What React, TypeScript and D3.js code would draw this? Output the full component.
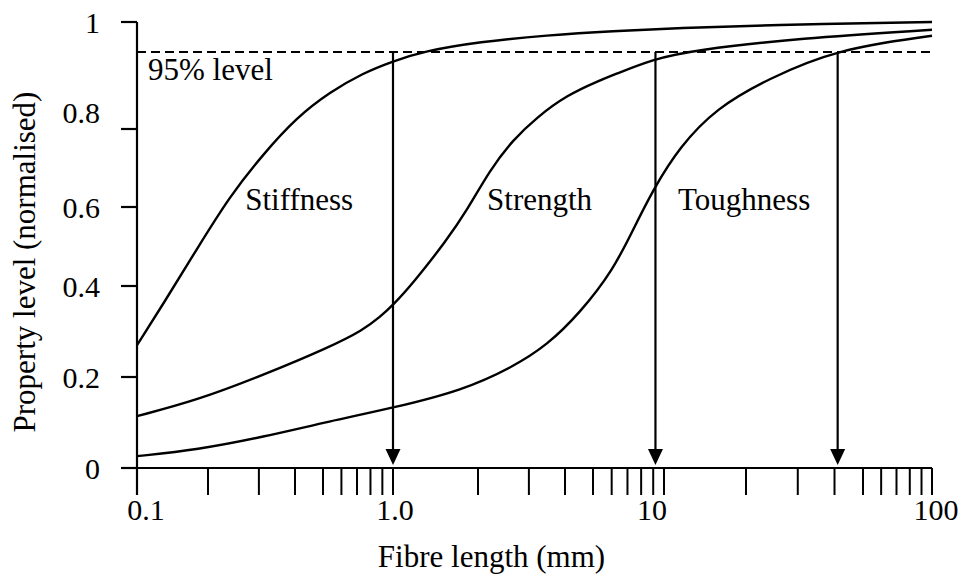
import React from "react";
import * as d3 from "d3";

// Normalised property level against fibre length (mm)
const stiffness: [number, number][] = [
  [0.1, 0.27], [0.129, 0.36], [0.18, 0.495], [0.238, 0.628], [0.31, 0.735],
  [0.406, 0.823], [0.536, 0.872], [0.743, 0.909], [1.0, 0.932], [1.28, 0.951],
  [2.02, 0.967], [3.47, 0.978], [6.08, 0.985], [11.4, 0.99], [23.6, 0.995],
  [100, 1.0],
];
const strength: [number, number][] = [
  [0.1, 0.114], [0.18, 0.149], [0.31, 0.204], [0.536, 0.266], [0.743, 0.303],
  [0.879, 0.332], [1.0, 0.358], [1.18, 0.408], [1.55, 0.516], [1.83, 0.592],
  [2.2, 0.695], [2.64, 0.772], [3.2, 0.823], [4.06, 0.866], [5.36, 0.895],
  [6.08, 0.905], [8.98, 0.936], [12.8, 0.953], [30.5, 0.973], [100, 0.987],
];
const toughness: [number, number][] = [
  [0.1, 0.026], [0.18, 0.04], [0.31, 0.068], [0.536, 0.103], [1.0, 0.132],
  [1.77, 0.171], [2.64, 0.222], [3.47, 0.27], [4.51, 0.341], [6.08, 0.44],
  [7.39, 0.542], [8.98, 0.644], [11.4, 0.754], [15.6, 0.841], [23.6, 0.897],
  [40.8, 0.955], [100, 0.977],
];

const curveNames = ["Stiffness", "Strength", "Toughness"];
const curveLabelAt: [number, number][] = [[0.269, 0.592], [2.15, 0.592], [11.26, 0.592]];

// Fibre length at which each property reaches the 95 % level
const criticalLengths = [1.0, 9.2, 41];
const targetLevel = 0.95;

const xTickValues = [0.1, 1, 10, 100];
const xTickLabels = ["0.1", "1.0", "10", "100"];
const yTickValues = [0, 0.2, 0.4, 0.6, 0.8, 1];
const yTickLabels = ["0", "0.2", "0.4", "0.6", "0.8", "1"];

const FONT = "'Liberation Serif', 'Times New Roman', serif";
const W = 962;
const H = 579;

// Axis as drawn: log spacing per segment, piecewise across the decades
const x = d3
  .scaleLog()
  .domain([0.1, 0.2, 0.5, 1, 2, 5, 10, 20, 50, 100])
  .range([137, 208, 323, 393, 478, 593, 664, 746, 863, 932]);
const y = d3
  .scaleLinear()
  .domain([0, 0.2, 0.4, 0.6, 0.8, 0.95, 1])
  .range([468, 377, 286, 207, 129, 52, 22]);

// Small hand offsets for the tick labels
const xLabelNudge: Record<string, number> = { "0.1": 9, "1.0": 2, "10": -12, "100": 4 };
const yLabelNudge: Record<string, number> = { "0.8": -17 };

export default function App() {
  const line = d3
    .line<[number, number]>()
    .x((d) => x(d[0]))
    .y((d) => y(d[1]))
    .curve(d3.curveBasis);

  const [x0, x1] = [x(0.1), x(100)];
  const y0 = y(0);
  const minorTicks = x.ticks();

  return (
    <svg
      width={W}
      height={H}
      style={{ position: "absolute", left: 0, top: 0, background: "#fff" }}
      fontFamily={FONT}
    >
      {/* y axis */}
      <line x1={x0} x2={x0} y1={y(1)} y2={y0 + 27} stroke="#000" strokeWidth={2.2} />
      {yTickValues.map((v, i) => (
        <g key={"yt" + i}>
          <line x1={x0 - 16} x2={x0} y1={y(v)} y2={y(v)} stroke="#000" strokeWidth={2.2} />
          <text
            x={100}
            y={y(v) + (yLabelNudge[yTickLabels[i]] || 0)}
            textAnchor="end"
            dominantBaseline="central"
            fontSize={30}
          >
            {yTickLabels[i]}
          </text>
        </g>
      ))}

      {/* x axis */}
      <line x1={x0 - 16} x2={x1} y1={y0} y2={y0} stroke="#000" strokeWidth={2.2} />
      {minorTicks.map((v, i) => (
        <line key={"xt" + i} x1={x(v)} x2={x(v)} y1={y0} y2={y0 + 27} stroke="#000" strokeWidth={2} />
      ))}
      {xTickValues.map((v, i) => (
        <text
          key={"xl" + i}
          x={x(v) + (xLabelNudge[xTickLabels[i]] || 0)}
          y={520}
          textAnchor="middle"
          fontSize={30}
        >
          {xTickLabels[i]}
        </text>
      ))}

      {/* axis titles */}
      <text x={(375 + 608) / 2} y={567} textAnchor="middle" fontSize={31}>
        Fibre length (mm)
      </text>
      <text transform={`translate(35, 262) rotate(-90)`} textAnchor="middle" fontSize={31}>
        Property level (normalised)
      </text>

      {/* 95 % level */}
      <line
        x1={x0}
        x2={x1}
        y1={y(targetLevel)}
        y2={y(targetLevel)}
        stroke="#000"
        strokeWidth={2}
        strokeDasharray="9 5"
      />
      <text x={148} y={80} fontSize={31}>
        95% level
      </text>

      {/* property curves */}
      {[stiffness, strength, toughness].map((s, i) => (
        <path key={"c" + i} d={line(s) || ""} fill="none" stroke="#000" strokeWidth={2.4} />
      ))}
      {curveNames.map((n, i) => (
        <text key={"n" + i} x={x(curveLabelAt[i][0])} y={y(curveLabelAt[i][1])} fontSize={31}>
          {n}
        </text>
      ))}

      {/* drop arrows to the critical lengths */}
      {criticalLengths.map((L, i) => {
        const cx = x(L);
        const tip = y0 - 3;
        return (
          <g key={"a" + i}>
            <line x1={cx} x2={cx} y1={y(targetLevel)} y2={tip - 10} stroke="#000" strokeWidth={2.2} />
            <path d={`M${cx - 7.5},${tip - 16} L${cx + 7.5},${tip - 16} L${cx},${tip} Z`} fill="#000" />
          </g>
        );
      })}
    </svg>
  );
}
